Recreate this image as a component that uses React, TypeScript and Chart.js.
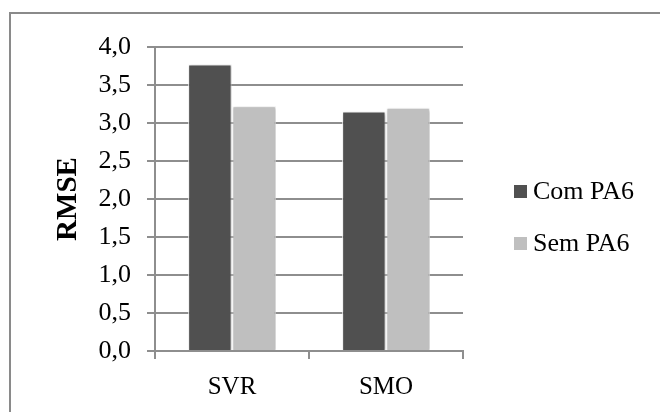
import React, { useEffect, useRef } from "react";
import { Chart, registerables } from "chart.js";

Chart.register(...registerables);

const categories = ["SVR", "SMO"];
const seriesNames = ["Com PA6", "Sem PA6"];
const comPA6 = [3.77, 3.15];
const semPA6 = [3.22, 3.2];
const yTicks = [0, 0.5, 1, 1.5, 2, 2.5, 3, 3.5, 4];

const FONT = "'Liberation Serif', 'DejaVu Serif', serif";
const GRID = "#8e8e8e";

// White page, plus the frame's left and top edges
const framePlugin = {
  id: "frame",
  beforeDraw(chart: Chart) {
    const ctx = chart.ctx;
    ctx.save();
    ctx.fillStyle = "#ffffff";
    ctx.fillRect(0, 0, chart.width, chart.height);
    ctx.strokeStyle = "#8a8a8a";
    ctx.lineWidth = 2;
    ctx.beginPath();
    ctx.moveTo(10, chart.height);
    ctx.lineTo(10, 13);
    ctx.lineTo(chart.width, 13);
    ctx.stroke();
    ctx.restore();
  },
};

// Soft drop shadow under the bars
const shadowPlugin = {
  id: "barShadow",
  beforeDatasetsDraw(chart: Chart) {
    const ctx = chart.ctx;
    ctx.save();
    ctx.shadowColor = "rgba(0,0,0,0.28)";
    ctx.shadowBlur = 3;
    ctx.shadowOffsetX = 1;
    ctx.shadowOffsetY = 1;
  },
  afterDatasetsDraw(chart: Chart) {
    chart.ctx.restore();
  },
};

// Legend to the right of the plot, one entry per series
const sideLegendPlugin = {
  id: "sideLegend",
  afterDraw(chart: Chart) {
    const ctx = chart.ctx;
    const area = chart.chartArea;
    const x0 = area.right + 51;
    const ys = [191, 243];
    ctx.save();
    ctx.font = `26px ${FONT}`;
    ctx.textBaseline = "middle";
    ctx.textAlign = "left";
    chart.data.datasets.forEach((ds: any, i: number) => {
      const y = ys[i];
      ctx.fillStyle = ds.backgroundColor as string;
      ctx.fillRect(x0, y - 6, 13, 13);
      ctx.fillStyle = "#000000";
      ctx.fillText(ds.label, x0 + 19, y + 1);
    });
    ctx.restore();
  },
};

export default function App() {
  const canvasRef = useRef<HTMLCanvasElement | null>(null);

  useEffect(() => {
    if (!canvasRef.current) return;
    const chart = new Chart(canvasRef.current, {
      type: "bar",
      data: {
        labels: categories,
        datasets: [
          {
            label: seriesNames[0],
            data: comPA6,
            backgroundColor: "#505050",
            borderColor: "#ffffff",
            borderWidth: 1,
            categoryPercentage: 0.575,
            barPercentage: 0.98,
          },
          {
            label: seriesNames[1],
            data: semPA6,
            backgroundColor: "#bfbfbf",
            borderColor: "#ffffff",
            borderWidth: 1,
            categoryPercentage: 0.575,
            barPercentage: 0.98,
          },
        ],
      },
      options: {
        responsive: false,
        animation: false,
        devicePixelRatio: 1,
        layout: { padding: { left: 0, top: 47, right: 197, bottom: 0 } },
        plugins: {
          legend: { display: false },
          tooltip: { enabled: false },
        },
        scales: {
          x: {
            grid: {
              offset: true,
              drawOnChartArea: false,
              drawTicks: true,
              tickLength: 8,
              color: GRID,
              lineWidth: 2,
            },
            border: { color: GRID, width: 2 },
            ticks: {
              color: "#000000",
              font: { family: FONT, size: 25 },
              padding: 13,
            },
            afterFit(scale: any) {
              scale.height = 61;
            },
          },
          y: {
            min: 0,
            max: 4,
            afterBuildTicks(scale: any) {
              scale.ticks = yTicks.map((v) => ({ value: v }));
            },
            grid: {
              color: GRID,
              lineWidth: 2,
              tickLength: 8,
            },
            border: { color: GRID, width: 2 },
            ticks: {
              color: "#000000",
              font: { family: FONT, size: 26 },
              padding: 16,
              callback: (v: any) => Number(v).toFixed(1).replace(".", ","),
            },
            title: {
              display: true,
              text: "RMSE",
              color: "#000000",
              font: { family: FONT, size: 29, weight: "bold" },
              padding: { top: 51, bottom: 0 },
            },
            afterFit(scale: any) {
              scale.width = 155;
            },
          },
        },
      },
      plugins: [framePlugin, shadowPlugin, sideLegendPlugin],
    });
    return () => chart.destroy();
  }, []);

  return (
    <div style={{ position: "absolute", left: 0, top: 0, width: 660, height: 412, background: "#fff" }}>
      <canvas ref={canvasRef} width={660} height={412} />
    </div>
  );
}
